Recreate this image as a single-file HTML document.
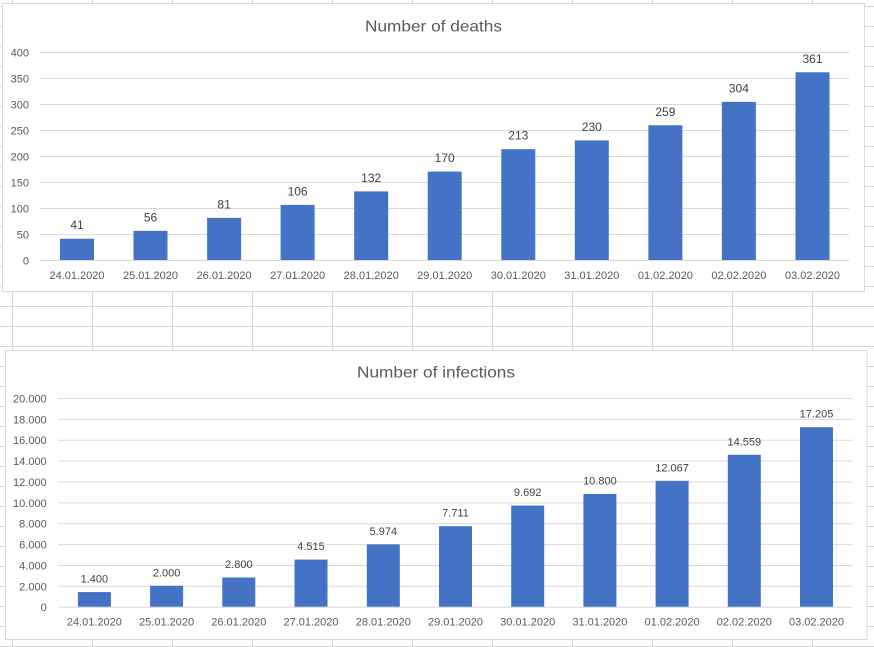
<!DOCTYPE html>
<html>
<head>
<meta charset="utf-8">
<style>
html,body{margin:0;padding:0;background:#fff;}
svg{display:block;}
text{font-family:"Liberation Sans",Arial,sans-serif;}
</style>
</head>
<body>
<svg width="874" height="647" viewBox="0 0 874 647" xmlns="http://www.w3.org/2000/svg">
<rect x="0" y="0" width="874" height="647" fill="#fff"/>
<g stroke="#d6d6d6" stroke-width="1">
<line x1="12.5" y1="0" x2="12.5" y2="647"/>
<line x1="92.5" y1="0" x2="92.5" y2="647"/>
<line x1="172.5" y1="0" x2="172.5" y2="647"/>
<line x1="252.5" y1="0" x2="252.5" y2="647"/>
<line x1="332.5" y1="0" x2="332.5" y2="647"/>
<line x1="412.5" y1="0" x2="412.5" y2="647"/>
<line x1="492.5" y1="0" x2="492.5" y2="647"/>
<line x1="572.5" y1="0" x2="572.5" y2="647"/>
<line x1="652.5" y1="0" x2="652.5" y2="647"/>
<line x1="732.5" y1="0" x2="732.5" y2="647"/>
<line x1="812.5" y1="0" x2="812.5" y2="647"/>
<line x1="0" y1="6.5" x2="874" y2="6.5"/>
<line x1="0" y1="26.5" x2="874" y2="26.5"/>
<line x1="0" y1="46.5" x2="874" y2="46.5"/>
<line x1="0" y1="66.5" x2="874" y2="66.5"/>
<line x1="0" y1="86.5" x2="874" y2="86.5"/>
<line x1="0" y1="106.5" x2="874" y2="106.5"/>
<line x1="0" y1="126.5" x2="874" y2="126.5"/>
<line x1="0" y1="146.5" x2="874" y2="146.5"/>
<line x1="0" y1="166.5" x2="874" y2="166.5"/>
<line x1="0" y1="186.5" x2="874" y2="186.5"/>
<line x1="0" y1="206.5" x2="874" y2="206.5"/>
<line x1="0" y1="226.5" x2="874" y2="226.5"/>
<line x1="0" y1="246.5" x2="874" y2="246.5"/>
<line x1="0" y1="266.5" x2="874" y2="266.5"/>
<line x1="0" y1="286.5" x2="874" y2="286.5"/>
<line x1="0" y1="306.5" x2="874" y2="306.5"/>
<line x1="0" y1="326.5" x2="874" y2="326.5"/>
<line x1="0" y1="346.5" x2="874" y2="346.5"/>
<line x1="0" y1="366.5" x2="874" y2="366.5"/>
<line x1="0" y1="386.5" x2="874" y2="386.5"/>
<line x1="0" y1="406.5" x2="874" y2="406.5"/>
<line x1="0" y1="426.5" x2="874" y2="426.5"/>
<line x1="0" y1="446.5" x2="874" y2="446.5"/>
<line x1="0" y1="466.5" x2="874" y2="466.5"/>
<line x1="0" y1="486.5" x2="874" y2="486.5"/>
<line x1="0" y1="506.5" x2="874" y2="506.5"/>
<line x1="0" y1="526.5" x2="874" y2="526.5"/>
<line x1="0" y1="546.5" x2="874" y2="546.5"/>
<line x1="0" y1="566.5" x2="874" y2="566.5"/>
<line x1="0" y1="586.5" x2="874" y2="586.5"/>
<line x1="0" y1="606.5" x2="874" y2="606.5"/>
<line x1="0" y1="626.5" x2="874" y2="626.5"/>
<line x1="0" y1="646.5" x2="874" y2="646.5"/>
</g>

<!-- TOP CHART -->
<rect x="2.5" y="3.5" width="862" height="288" fill="#fff" stroke="#d9d9d9"/>
<text x="433.5" y="31.7" font-size="16" fill="#595959" text-anchor="middle" textLength="137" lengthAdjust="spacingAndGlyphs">Number of deaths</text>
<g stroke="#d9d9d9" stroke-width="1">
<line x1="40" y1="52.5" x2="849" y2="52.5"/>
<line x1="40" y1="78.5" x2="849" y2="78.5"/>
<line x1="40" y1="104.5" x2="849" y2="104.5"/>
<line x1="40" y1="130.5" x2="849" y2="130.5"/>
<line x1="40" y1="156.5" x2="849" y2="156.5"/>
<line x1="40" y1="182.5" x2="849" y2="182.5"/>
<line x1="40" y1="208.5" x2="849" y2="208.5"/>
<line x1="40" y1="234.5" x2="849" y2="234.5"/>
<line x1="40" y1="260.5" x2="849" y2="260.5"/>
</g>
<g font-size="11" fill="#595959" text-anchor="end">
<text x="29" y="56.5">400</text>
<text x="29" y="82.5">350</text>
<text x="29" y="108.5">300</text>
<text x="29" y="134.5">250</text>
<text x="29" y="160.5">200</text>
<text x="29" y="186.5">150</text>
<text x="29" y="212.5">100</text>
<text x="29" y="238.5">50</text>
<text x="29" y="264.5">0</text>
</g>
<g fill="#4472c4">
<rect x="60.0" y="238.7" width="34" height="21.3"/>
<rect x="133.5" y="230.9" width="34" height="29.1"/>
<rect x="207.1" y="217.9" width="34" height="42.1"/>
<rect x="280.6" y="204.9" width="34" height="55.1"/>
<rect x="354.2" y="191.4" width="34" height="68.6"/>
<rect x="427.7" y="171.6" width="34" height="88.4"/>
<rect x="501.3" y="149.2" width="34" height="110.8"/>
<rect x="574.8" y="140.4" width="34" height="119.6"/>
<rect x="648.4" y="125.3" width="34" height="134.7"/>
<rect x="721.9" y="101.9" width="34" height="158.1"/>
<rect x="795.5" y="72.3" width="34" height="187.7"/>
</g>
<g font-size="12" fill="#404040" text-anchor="middle">
<text x="77.0" y="229.2">41</text>
<text x="150.5" y="221.4">56</text>
<text x="224.1" y="208.4">81</text>
<text x="297.6" y="195.4">106</text>
<text x="371.2" y="181.9">132</text>
<text x="444.7" y="162.1">170</text>
<text x="518.3" y="139.7">213</text>
<text x="591.8" y="130.9">230</text>
<text x="665.4" y="115.8">259</text>
<text x="738.9" y="92.4">304</text>
<text x="812.5" y="62.8">361</text>
</g>
<g font-size="11" fill="#595959" text-anchor="middle">
<text x="77.0" y="279">24.01.2020</text>
<text x="150.5" y="279">25.01.2020</text>
<text x="224.1" y="279">26.01.2020</text>
<text x="297.6" y="279">27.01.2020</text>
<text x="371.2" y="279">28.01.2020</text>
<text x="444.7" y="279">29.01.2020</text>
<text x="518.3" y="279">30.01.2020</text>
<text x="591.8" y="279">31.01.2020</text>
<text x="665.4" y="279">01.02.2020</text>
<text x="738.9" y="279">02.02.2020</text>
<text x="812.5" y="279">03.02.2020</text>
</g>

<!-- BOTTOM CHART -->
<rect x="5.5" y="350.5" width="861.5" height="289" fill="#fff" stroke="#d9d9d9"/>
<text x="436" y="377.7" font-size="16" fill="#595959" text-anchor="middle" textLength="158" lengthAdjust="spacingAndGlyphs">Number of infections</text>
<g stroke="#d9d9d9" stroke-width="1">
<line x1="58.3" y1="398.5" x2="852.7" y2="398.5"/>
<line x1="58.3" y1="419.4" x2="852.7" y2="419.4"/>
<line x1="58.3" y1="440.2" x2="852.7" y2="440.2"/>
<line x1="58.3" y1="461.1" x2="852.7" y2="461.1"/>
<line x1="58.3" y1="482.0" x2="852.7" y2="482.0"/>
<line x1="58.3" y1="502.9" x2="852.7" y2="502.9"/>
<line x1="58.3" y1="523.7" x2="852.7" y2="523.7"/>
<line x1="58.3" y1="544.6" x2="852.7" y2="544.6"/>
<line x1="58.3" y1="565.5" x2="852.7" y2="565.5"/>
<line x1="58.3" y1="586.3" x2="852.7" y2="586.3"/>
<line x1="58.3" y1="607.2" x2="852.7" y2="607.2"/>
</g>
<g font-size="11" fill="#595959" text-anchor="end">
<text x="46.7" y="402.5">20.000</text>
<text x="46.7" y="423.4">18.000</text>
<text x="46.7" y="444.2">16.000</text>
<text x="46.7" y="465.1">14.000</text>
<text x="46.7" y="486.0">12.000</text>
<text x="46.7" y="506.9">10.000</text>
<text x="46.7" y="527.7">8.000</text>
<text x="46.7" y="548.6">6.000</text>
<text x="46.7" y="569.5">4.000</text>
<text x="46.7" y="590.3">2.000</text>
<text x="46.7" y="611.2">0</text>
</g>
<g fill="#4472c4">
<rect x="77.9" y="592.1" width="33" height="14.6"/>
<rect x="150.1" y="585.8" width="33" height="20.9"/>
<rect x="222.3" y="577.5" width="33" height="29.2"/>
<rect x="294.5" y="559.6" width="33" height="47.1"/>
<rect x="366.8" y="544.4" width="33" height="62.3"/>
<rect x="439.0" y="526.2" width="33" height="80.5"/>
<rect x="511.2" y="505.6" width="33" height="101.1"/>
<rect x="583.4" y="494.0" width="33" height="112.7"/>
<rect x="655.6" y="480.8" width="33" height="125.9"/>
<rect x="727.8" y="454.8" width="33" height="151.9"/>
<rect x="800.0" y="427.2" width="33" height="179.5"/>
</g>
<g font-size="11" fill="#404040" text-anchor="middle">
<text x="94.4" y="582.6">1.400</text>
<text x="166.6" y="576.3">2.000</text>
<text x="238.8" y="568.0">2.800</text>
<text x="311.0" y="550.1">4.515</text>
<text x="383.3" y="534.9">5.974</text>
<text x="455.5" y="516.7">7.711</text>
<text x="527.7" y="496.1">9.692</text>
<text x="599.9" y="484.5">10.800</text>
<text x="672.1" y="471.3">12.067</text>
<text x="744.3" y="445.3">14.559</text>
<text x="816.5" y="417.7">17.205</text>
</g>
<g font-size="11" fill="#595959" text-anchor="middle">
<text x="94.4" y="625.5">24.01.2020</text>
<text x="166.6" y="625.5">25.01.2020</text>
<text x="238.8" y="625.5">26.01.2020</text>
<text x="311.0" y="625.5">27.01.2020</text>
<text x="383.3" y="625.5">28.01.2020</text>
<text x="455.5" y="625.5">29.01.2020</text>
<text x="527.7" y="625.5">30.01.2020</text>
<text x="599.9" y="625.5">31.01.2020</text>
<text x="672.1" y="625.5">01.02.2020</text>
<text x="744.3" y="625.5">02.02.2020</text>
<text x="816.5" y="625.5">03.02.2020</text>
</g>
</svg>
</body>
</html>
